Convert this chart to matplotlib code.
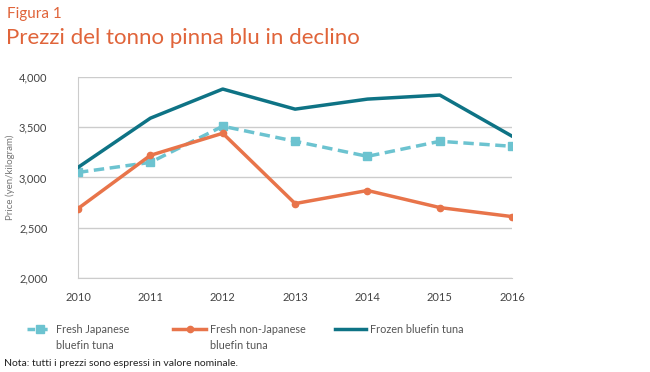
import matplotlib.pyplot as plt
from matplotlib.lines import Line2D
from matplotlib.ticker import FuncFormatter

years = [2010, 2011, 2012, 2013, 2014, 2015, 2016]
fresh_japanese = [3050, 3150, 3510, 3360, 3210, 3360, 3310]
fresh_non_japanese = [2690, 3220, 3440, 2740, 2870, 2700, 2610]
frozen = [3100, 3590, 3880, 3680, 3780, 3820, 3410]

labels = ["Fresh Japanese\nbluefin tuna", "Fresh non-Japanese\nbluefin tuna", "Frozen bluefin tuna"]
yticks = [2000, 2500, 3000, 3500, 4000]

c_light = "#6cc3d0"
c_orange = "#e8744a"
c_teal = "#0e7385"
c_title = "#e0643a"
c_text = "#444444"

plt.rcParams['font.family'] = ['Lato', 'DejaVu Sans']

fig = plt.figure(figsize=(6.5, 3.72), dpi=100)
ax = fig.add_axes([0.12, 0.253, 0.668, 0.54])

styles = [
    dict(color=c_light, lw=2.5, ls=(0, (3, 1.6)), marker="s", ms=6),
    dict(color=c_orange, lw=2.5, marker="o", ms=4.5),
    dict(color=c_teal, lw=2.5),
]
series = [fresh_japanese, fresh_non_japanese, frozen]
for vals, st, z in zip(series, styles, [3, 3, 4]):
    ax.plot(years, vals, zorder=z, **st)

ax.set_ylim(2000, 4000)
ax.set_xlim(2010, 2016)
ax.set_yticks(yticks)
ax.set_xticks(years)
ax.yaxis.set_major_formatter(FuncFormatter(lambda v, p: f"{int(v):,}"))
ax.grid(axis="y", color="#cccccc", lw=1)
ax.set_axisbelow(True)
for s in ["top", "right"]:
    ax.spines[s].set_visible(False)
ax.spines["left"].set_color("#cccccc")
ax.spines["bottom"].set_color("#cccccc")
ax.tick_params(length=0, labelsize=8, colors=c_text)
ax.tick_params(axis="y", pad=22)
ax.tick_params(axis="x", pad=10)
ax.set_ylabel("Price (yen/kilogram)", fontsize=7, color="#777777")
ax.yaxis.set_label_coords(-0.145, 0.5)

# legend drawn by hand so the handle lines up with the first text line
leg_x = [(27, 52), (173, 206), (335, 366)]
leg_y = 1 - 329 / 372
for (x0, x1), st, lab in zip(leg_x, styles, labels):
    xs = [x0 / 650, (x0 + x1) / 2 / 650, x1 / 650]
    st2 = dict(st)
    st2["ls"] = (0, (2.2, 1.4)) if "ls" in st else "-"
    fig.add_artist(Line2D(xs, [leg_y] * 3, transform=fig.transFigure,
                          markevery=[1], **st2))
    fig.text((x1 + 4) / 650, leg_y + 0.013, lab, fontsize=7.8, color="#555555",
             va="top", linespacing=1.5)

fig.text(0.011, 0.962, "Figura 1", fontsize=11, color=c_title, va="center")
fig.text(0.009, 0.897, "Prezzi del tonno pinna blu in declino", fontsize=16, color=c_title, va="center")
fig.text(0.006, 0.022, "Nota: tutti i prezzi sono espressi in valore nominale.", fontsize=7.5,
         color="#222222", va="center")

fig.savefig("out.png", dpi=100)
